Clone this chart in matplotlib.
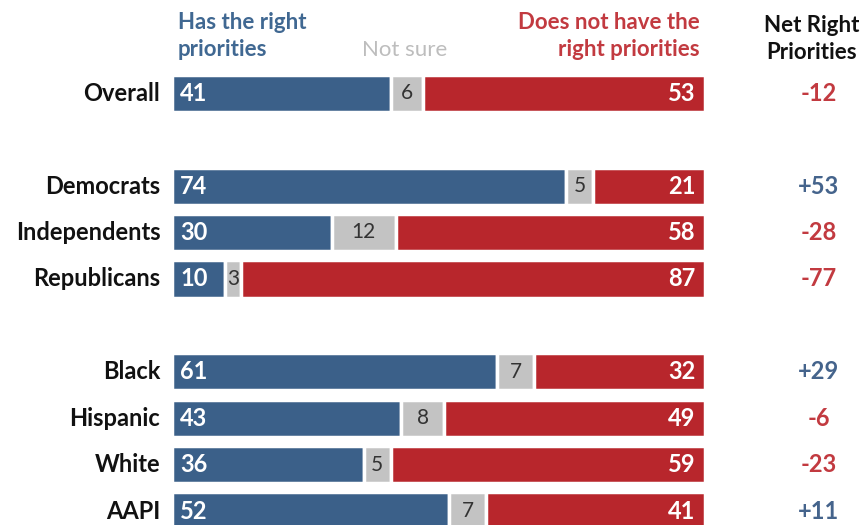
import matplotlib.pyplot as plt

groups = ["Overall", "Democrats", "Independents", "Republicans",
          "Black", "Hispanic", "White", "AAPI"]
right = [41, 74, 30, 10, 61, 43, 36, 52]
not_sure = [6, 5, 12, 3, 7, 8, 5, 7]
wrong = [53, 21, 58, 87, 32, 49, 59, 41]
net = ["-12", "+53", "-28", "-77", "+29", "-6", "-23", "+11"]
rows = [0, 2, 3, 4, 6, 7, 8, 9]

blue = "#3b6089"
red = "#b8262c"
gray = "#c3c3c3"
net_red = "#c23a40"
net_blue = "#45648c"

plt.rcParams["font.family"] = ["Lato", "DejaVu Sans"]
fs = 17

fig = plt.figure(figsize=(8.64, 5.25), dpi=100)
W, H = 864, 525
ax = fig.add_axes([172 / W, 0, 533 / W, 455 / H])
ax.set_xlim(0, 100)
ax.set_ylim(9.3, -0.5)
ax.axis("off")

h = 0.8
lw = 2.5
left2 = [r for r in right]
left3 = [r + n for r, n in zip(right, not_sure)]
ax.barh(rows, right, height=h, color=blue, edgecolor="white", linewidth=lw)
ax.barh(rows, not_sure, left=left2, height=h, color=gray, edgecolor="white", linewidth=lw)
ax.barh(rows, wrong, left=left3, height=h, color=red, edgecolor="white", linewidth=lw)

for y, g, r, n, w, t in zip(rows, groups, right, not_sure, wrong, net):
    ax.text(-2.2, y, g, ha="right", va="center", fontsize=fs, fontweight="bold", color="#111111")
    ax.text(1.5, y, str(r), ha="left", va="center", fontsize=fs, fontweight="bold", color="white")
    ax.text(r + n / 2, y, str(n), ha="center", va="center", fontsize=fs - 2, color="#333333")
    ax.text(98.2, y, str(w), ha="right", va="center", fontsize=fs, fontweight="bold", color="white")
    ax.text(121.3, y, t, ha="center", va="center", fontsize=fs, fontweight="bold",
            color=net_blue if t.startswith("+") else net_red)

fig.text(178 / W, 1 - 36 / H, "Has the right\npriorities", ha="left", va="center",
         fontsize=fs - 1, fontweight="bold", color="#406892", linespacing=1.3)
fig.text(405 / W, 1 - 50 / H, "Not sure", ha="center", va="center",
         fontsize=fs - 1, color="#bdbdbd")
fig.text(700 / W, 1 - 36 / H, "Does not have the\nright priorities", ha="right", va="center",
         fontsize=fs - 1, fontweight="bold", color="#c23a40", linespacing=1.3)
fig.text(812 / W, 1 - 39 / H, "Net Right\nPriorities", ha="center", va="center",
         fontsize=fs - 1, fontweight="bold", color="#111111", linespacing=1.3)

fig.savefig("out.png", dpi=100, facecolor="white")
